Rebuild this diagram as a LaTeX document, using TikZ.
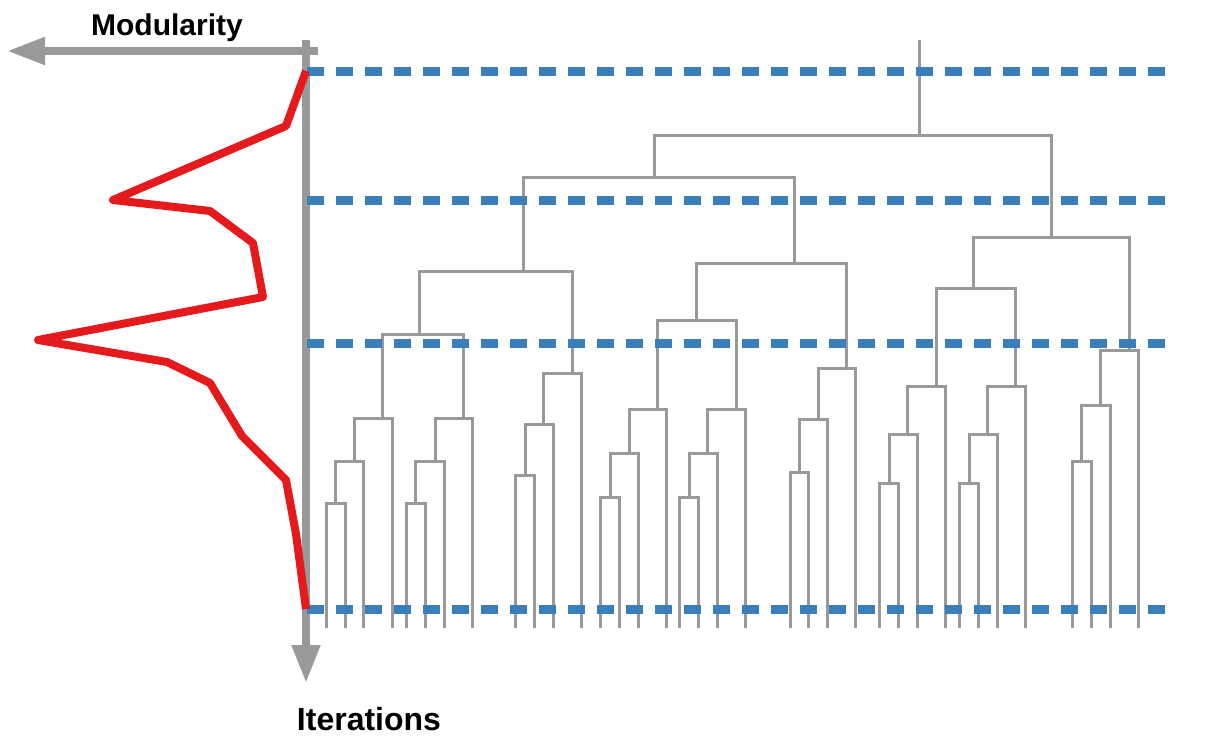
\documentclass[tikz,border=0pt]{standalone}
\usepackage{fontspec}
\setmainfont{Liberation Sans}
\usetikzlibrary{arrows.meta}
\definecolor{dgrey}{HTML}{999999}
\definecolor{dblue}{HTML}{3A7FBA}
\definecolor{dred}{HTML}{E41A1C}
\tikzset{
  branch/.style={draw=dgrey, line width=3pt, line join=miter},
  level/.style={draw=dblue, line width=9pt, dash pattern=on 17pt off 12pt},
  axisline/.style={draw=dgrey, line width=8pt},
  curve/.style={draw=dred, line width=8pt, line join=round},
  label/.style={font=\bfseries\fontsize{30}{36}\selectfont, inner sep=0pt}
}
\newcommand{\mrg}[5]{\draw[branch] (#1,#2) -- (#1,#5) -- (#3,#5) -- (#3,#4);}
\begin{document}
\begin{tikzpicture}[x=1pt,y=-1pt]
\useasboundingbox (0,0) rectangle (1230,752);
% dendrogram
\mrg{326}{628}{345}{628}{503}
\mrg{335.7}{503}{363}{628}{461}
\mrg{354}{461}{392}{628}{418}
\mrg{406}{628}{425}{628}{503}
\mrg{415.7}{503}{444}{628}{461}
\mrg{435}{461}{472}{628}{418}
\mrg{382}{418}{463}{418}{334}
\mrg{515}{628}{534}{628}{475}
\mrg{525}{475}{553}{628}{424}
\mrg{543}{424}{581}{628}{373}
\mrg{419}{334}{572}{373}{271}
\mrg{600.7}{628}{619.3}{628}{497}
\mrg{610}{497}{638.3}{628}{453}
\mrg{629}{453}{666.7}{628}{409}
\mrg{679.3}{628}{698.3}{628}{497}
\mrg{689}{497}{717.3}{628}{453}
\mrg{707.7}{453}{745.7}{628}{409}
\mrg{657.3}{409}{736}{409}{320}
\mrg{790}{628}{808.7}{628}{472}
\mrg{799}{472}{827.3}{628}{419}
\mrg{818.3}{419}{855.7}{628}{368}
\mrg{696.7}{320}{846.7}{368}{263}
\mrg{523}{271}{794}{263}{177}
\mrg{879.3}{628}{898.3}{628}{483}
\mrg{889}{483}{917.3}{628}{434}
\mrg{907.7}{434}{945.3}{628}{386}
\mrg{959.3}{628}{978.3}{628}{483}
\mrg{969}{483}{997.3}{628}{434}
\mrg{987.7}{434}{1025}{628}{386}
\mrg{936}{386}{1015.7}{386}{288}
\mrg{1072.3}{628}{1091}{628}{461}
\mrg{1081.7}{461}{1110}{628}{405}
\mrg{1100}{405}{1138.3}{628}{350}
\mrg{973.3}{288}{1129.3}{350}{237}
\mrg{654}{177}{1051.7}{237}{135}
\draw[branch] (919,135) -- (919,40);
% axes
\coordinate (corner) at (306,51);
\coordinate (xtip) at (7,51);
\coordinate (ytip) at (306,683);
\draw[axisline, -{Triangle[length=38pt,width=26pt]}] (318,51) -- (xtip);
\draw[axisline, -{Triangle[length=38pt,width=27pt]}] (306,40) -- (ytip);
% levels
\foreach \yy in {71,200,343,609}
  \draw[level] (307,\yy) -- (1165,\yy);
% modularity curve
\draw[curve] (306,71) -- (286,126) -- (113,200) -- (210,211) -- (253,243) -- (263,297) -- (38,340) -- (167,362) -- (210,383) -- (242,436) -- (286,480) -- (296,534) -- (306,609);
% labels
\node[label] (mod) at (167,28) {Modularity};
\node[label, font=\bfseries\fontsize{32}{38}\selectfont] (iter) at (369,719) {Iterations};
\end{tikzpicture}
\end{document}
